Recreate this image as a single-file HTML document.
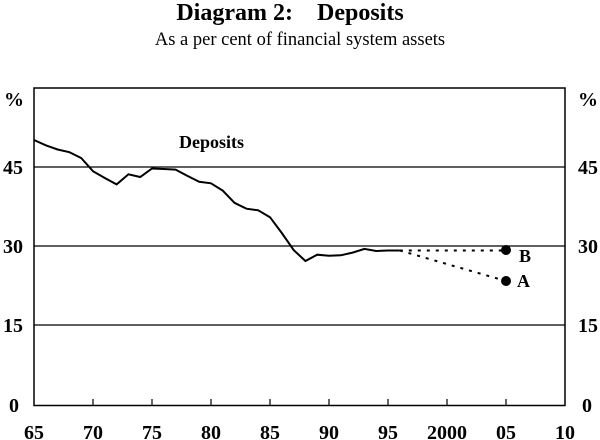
<!DOCTYPE html>
<html><head><style>body{margin:0;background:#fff}svg{display:block}text{font-family:"Liberation Serif",serif;fill:#000}</style></head>
<body>
<svg width="600" height="440" viewBox="0 0 600 440">
<text x="290" y="20" font-size="24" font-weight="bold" text-anchor="middle" xml:space="preserve">Diagram 2:    Deposits</text>
<text x="300" y="45" font-size="18.5" text-anchor="middle">As a per cent of financial system assets</text>
<g stroke="#000" stroke-width="1.2">
<line x1="34" y1="167" x2="565" y2="167"/>
<line x1="34" y1="246" x2="565" y2="246"/>
<line x1="34" y1="325" x2="565" y2="325"/>
<rect x="34" y="88" width="531" height="317.5" fill="none" stroke-width="1.5"/>
<path d="M93,405v-6M152,405v-6M211,405v-6M270,405v-6M329,405v-6M388,405v-6M447,405v-6M506,405v-6"/>
</g>
<g font-size="20" font-weight="bold">
<text x="4" y="106">%</text><text x="578" y="106">%</text>
<text x="3" y="174">45</text><text x="3" y="253">30</text><text x="3" y="332">15</text><text x="9" y="412">0</text>
<text x="578" y="174">45</text><text x="578" y="253">30</text><text x="578" y="332">15</text><text x="582" y="412">0</text>
<g text-anchor="middle">
<text x="34" y="439">65</text><text x="93" y="439">70</text><text x="152" y="439">75</text><text x="211" y="439">80</text><text x="270" y="439">85</text><text x="329" y="439">90</text><text x="388" y="439">95</text><text x="447" y="439">2000</text><text x="506" y="439">05</text><text x="565" y="439">10</text>
</g>
<text x="179" y="148" font-size="18">Deposits</text>
</g>
<polyline fill="none" stroke="#000" stroke-width="2" points="34,140 45.8,145.3 57.6,149.5 69.4,152.2 81.2,158 93,171.2 104.8,178 116.6,184.4 128.4,174.3 140.2,177 152,168.5 163.8,169 175.6,169.6 187.4,175.9 199.2,181.8 211,183.3 222.8,190.7 234.6,202.9 246.4,208.7 258.2,210.3 270,217.2 281.8,233 293.6,250 305.4,261 317.2,254.7 329,255.8 340.8,255.3 352.6,252.6 364.4,248.9 376.2,251 388,250.5 399.8,250.5"/>
<g stroke="#000" stroke-width="2" stroke-dasharray="3,6" fill="none">
<line x1="399.8" y1="250.5" x2="506" y2="250.5"/>
<line x1="399.8" y1="250.5" x2="506" y2="281"/>
</g>
<circle cx="506" cy="250" r="5" fill="#000"/>
<circle cx="506" cy="281" r="5" fill="#000"/>
<text x="519" y="262" font-size="18" font-weight="bold">B</text>
<text x="517" y="287" font-size="18" font-weight="bold">A</text>
</svg>
</body></html>
